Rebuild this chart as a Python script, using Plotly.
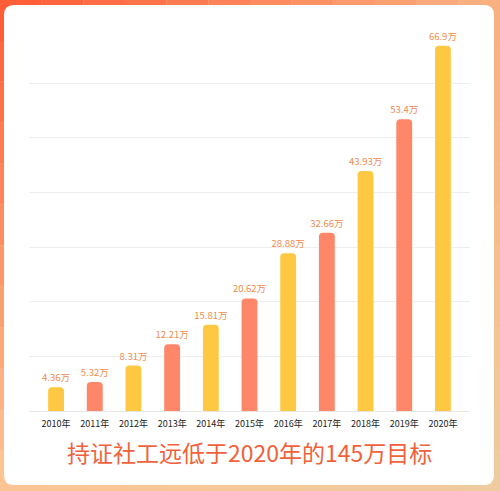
import plotly.graph_objects as go

# data (单位: 万人)
years = ["2010年", "2011年", "2012年", "2013年", "2014年", "2015年",
         "2016年", "2017年", "2018年", "2019年", "2020年"]
holders = [4.36, 5.32, 8.31, 12.21, 15.81, 20.62, 28.88, 32.66, 43.93, 53.4, 66.9]
labels = [f"{v:g}万" for v in holders]

yellow = "#ffc843"
salmon = "#fe8769"
bar_colors = [yellow if i % 2 == 0 else salmon for i in range(len(years))]

W, H = 500, 491
ML, MR, MT, MB = 29, 30, 38, 80
PW, PH = W - ML - MR, H - MT - MB


def px(x):
    return (x - ML) / PW


def py(y):
    return (H - MB - y) / PH


def mix(c1, c2, t):
    a = [int(c1[i:i + 2], 16) for i in (1, 3, 5)]
    b = [int(c2[i:i + 2], 16) for i in (1, 3, 5)]
    return "#" + "".join(f"{round(a[k] + (b[k] - a[k]) * t):02x}" for k in range(3))


# gradient frame behind the white card
tl, tr, bl, br = "#ff5531", "#f9b383", "#fcc995", "#eecca2"
shapes = []
n = 12
for i in range(n):
    for j in range(n):
        tx = (i + 0.5) / n
        ty = (j + 0.5) / n
        c = mix(mix(tl, tr, tx), mix(bl, br, tx), ty)
        shapes.append(dict(type="rect", xref="paper", yref="paper",
                           x0=px(W * i / n), x1=px(W * (i + 1) / n),
                           y0=py(H * j / n), y1=py(H * (j + 1) / n),
                           fillcolor=c, line_width=0, layer="below"))

# white rounded card
x0, x1, y0, y1, r = 4, 494, 5, 485, 10
path = (f"M {px(x0 + r)},{py(y0)} L {px(x1 - r)},{py(y0)} "
        f"Q {px(x1)},{py(y0)} {px(x1)},{py(y0 + r)} L {px(x1)},{py(y1 - r)} "
        f"Q {px(x1)},{py(y1)} {px(x1 - r)},{py(y1)} L {px(x0 + r)},{py(y1)} "
        f"Q {px(x0)},{py(y1)} {px(x0)},{py(y1 - r)} L {px(x0)},{py(y0 + r)} "
        f"Q {px(x0)},{py(y0)} {px(x0 + r)},{py(y0)} Z")
shapes.append(dict(type="path", xref="paper", yref="paper", path=path,
                   fillcolor="#ffffff", line_width=0, layer="below"))

fig = go.Figure(go.Bar(
    x=years, y=holders, text=labels, textposition="outside",
    constraintext="none",
    textfont=dict(size=9.5, color="#ef8b4f", family="Noto Sans CJK SC"),
    marker=dict(color=bar_colors, cornerradius=4, line_width=0),
    cliponaxis=False, hoverinfo="x+y",
))

fig.update_layout(
    width=W, height=H,
    margin=dict(l=ML, r=MR, t=MT, b=MB),
    paper_bgcolor="#fcc995",
    plot_bgcolor="rgba(0,0,0,0)",
    bargap=0.59,
    showlegend=False,
    shapes=shapes,
    font=dict(family="Noto Sans CJK SC", color="#333333"),
    annotations=[dict(
        text="持证社工远低于2020年的145万目标", xref="paper", yref="paper",
        x=px(249), y=py(452), yanchor="middle", showarrow=False,
        font=dict(size=23, color="#f0623c", family="Noto Sans CJK SC"),
    )],
)
fig.update_xaxes(range=[-0.7, 10.7], showline=True, linecolor="#e6e6e6",
                 linewidth=1, ticks="", ticklabelstandoff=4,
                 tickfont=dict(size=9, color="#222222"), showgrid=False)
fig.update_yaxes(range=[0, 68.3], dtick=10, showticklabels=False,
                 gridcolor="#eeeeee", gridwidth=1, zeroline=False)

fig.write_html("out.html", config={"displayModeBar": False},
               post_script="document.body.style.margin='0';")
